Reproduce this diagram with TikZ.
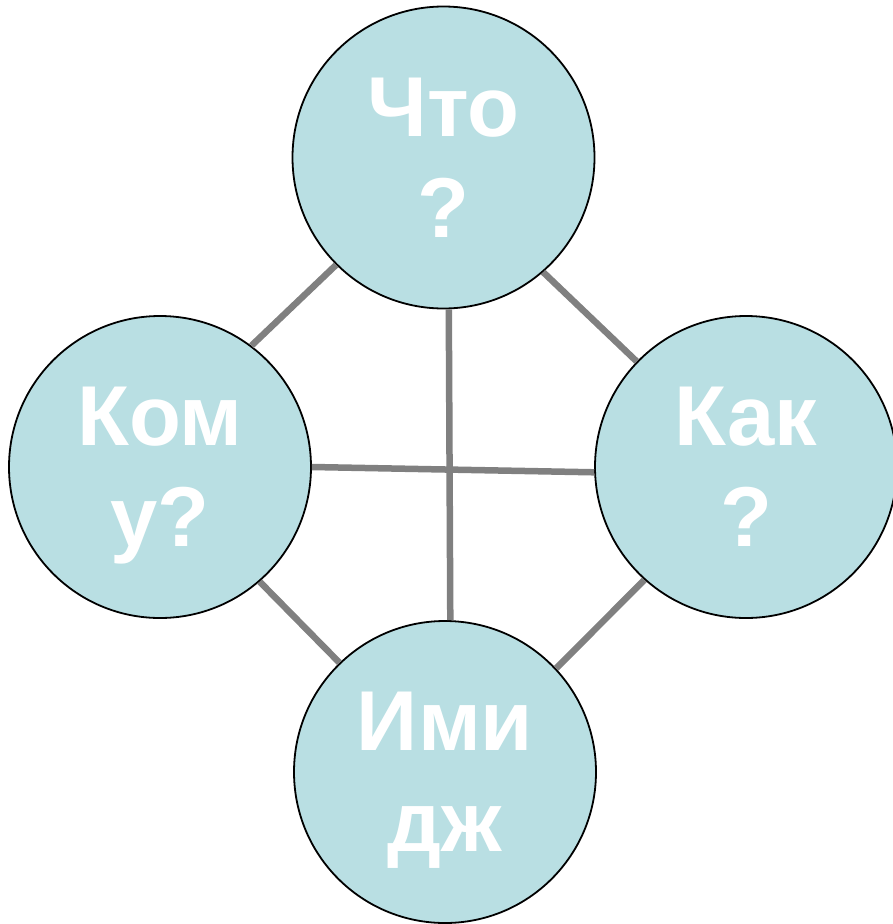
\documentclass[tikz,border=0pt]{standalone}
\usepackage{fontspec}
\setmainfont{Liberation Sans}
\usepackage{tikz}
\usetikzlibrary{positioning}

\definecolor{bubblefill}{RGB}{185,223,227}
\definecolor{linkgray}{RGB}{128,128,128}
% last line without descender depth
\newcommand{\flatline}[1]{\raisebox{0pt}[\height][0pt]{#1}}

\begin{document}
\begin{tikzpicture}[
            x=1pt, y=-1pt,
            bubble/.style={circle, draw=black, line width=1.8pt, fill=bubblefill, minimum size=302pt, inner sep=0pt, align=center, text=white, font=\bfseries\fontsize{85}{101}\selectfont},
            link/.style={draw=linkgray, line width=6.5pt}
        ]
    \useasboundingbox (0,0) rectangle (892,924);

            % Circles
            \node[bubble] (what) at (443.5,157.5) {Что\\\flatline{?}};
            \node[bubble] (whom) at (160,467) {Ком\\\flatline{у?}};
            \node[bubble] (how) at (746,467) {Как\\\flatline{?}};
            \node[bubble] (image) at (445,772) {Ими\\\flatline{дж}};

            % Outer links
            \draw[link] (whom.53) -- (what.225);
            \draw[link] (what.-49) -- (how.136);
            \draw[link] (how.228) -- (image.43);
            \draw[link] (whom.-49) -- (image.134);

            % Cross links
            \draw[link] (whom.0) -- (how.182);
            \draw[link] (what.-88) -- (image.88);

        \end{tikzpicture}
\end{document}
